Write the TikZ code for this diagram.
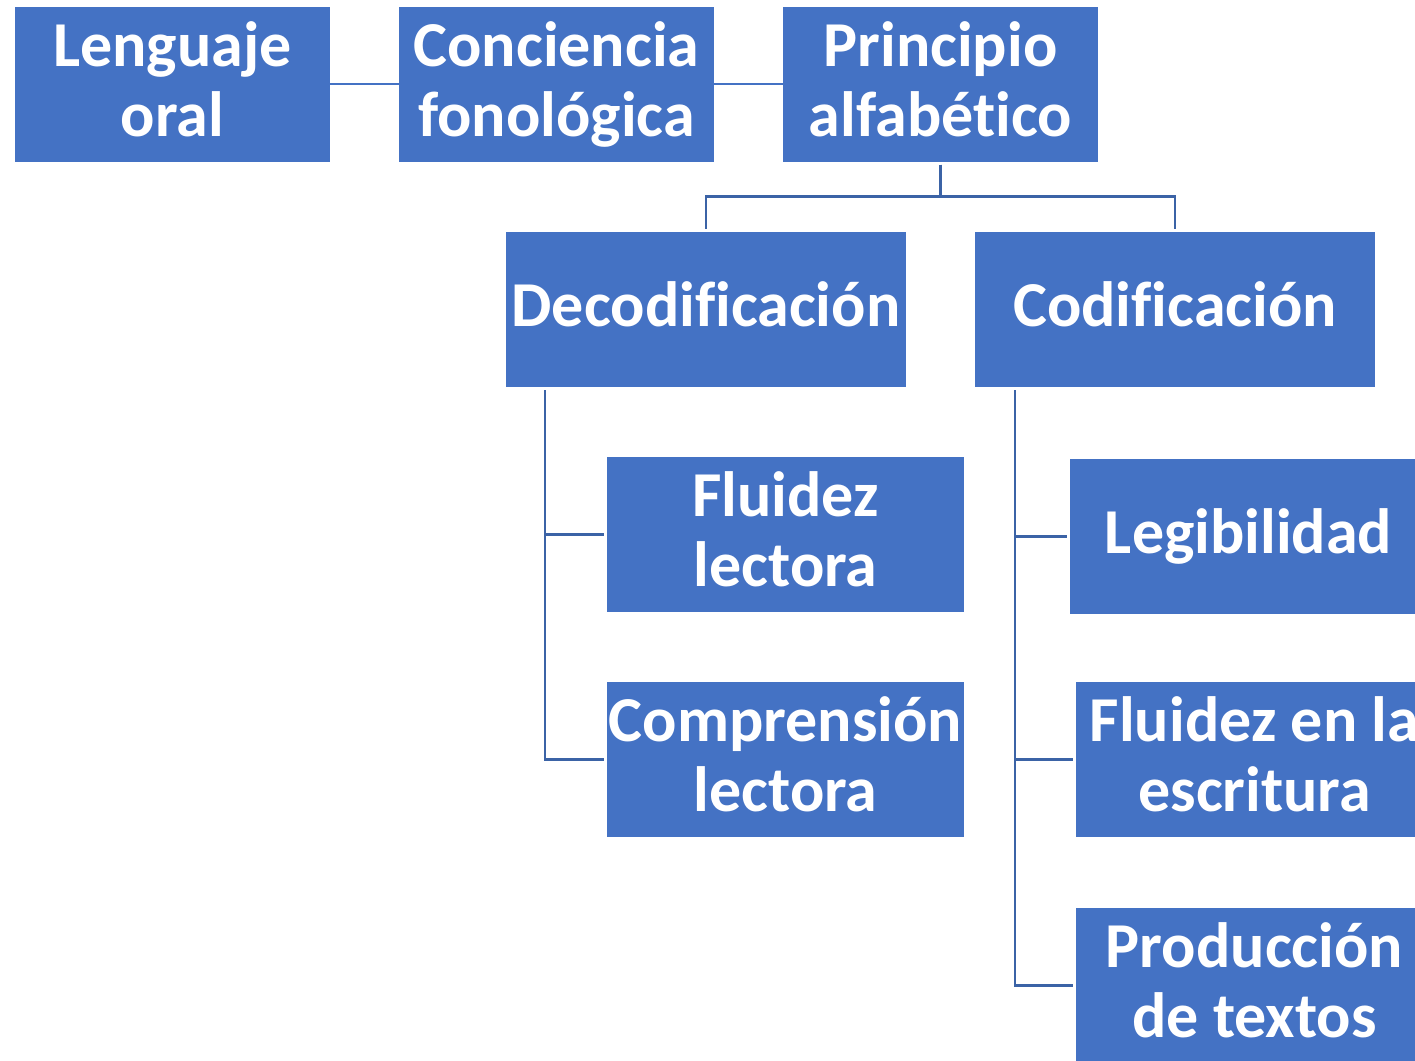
\documentclass[tikz,border=0pt]{standalone}
\usepackage{fontspec}
\setmainfont{Carlito}[Ligatures=NoCommon]
\usetikzlibrary{positioning}
\definecolor{boxblue}{HTML}{4472C4}
\definecolor{lineblue}{HTML}{3B63A6}
\newcommand{\boxstrut}{\rule[-18pt]{0pt}{70pt}}

\begin{document}
\begin{tikzpicture}[x=1pt,y=-1pt,
        box/.style={rectangle,fill=boxblue,text=white,inner sep=0pt,align=flush center,
            minimum height=155pt,font=\bfseries\fontsize{64}{70}\selectfont,
            execute at begin node=\noindent\boxstrut,execute at end node=\boxstrut},
        topbox/.style={box,minimum width=315pt,text width=315pt},
        midbox/.style={box,minimum width=400pt,text width=400pt},
        subbox/.style={box,minimum width=357pt,text width=357pt},
        link/.style={draw=boxblue,line width=1.5pt},
        tree/.style={draw=lineblue,line width=2.5pt,shorten <=3pt,shorten >=3pt}]

            \path[use as bounding box,clip] (0,0) rectangle (1415,1060);

            % Top row
            \node[topbox] (lenguaje) at (172.5,84) {Lenguaje\\oral};
            \node[topbox] (conciencia) at (556.5,84) {Conciencia\\fonológica};
            \node[topbox] (principio) at (940.5,84) {Principio\\alfabético};

            % Second level
            \node[midbox] (deco) at (706,309.5) {Decodificación};
            \node[midbox] (codi) at (1175,309.5) {Codificación};

            % Under decodificacion
            \node[subbox] (fluidezlec) at (785.5,534.5) {Fluidez\\lectora};
            \node[subbox] (comprension) at (785.5,759.5) {Comprensión\\lectora};

            % Under codificacion
            \node[subbox] (legibilidad) at (1248.5,536.5) {Legibilidad};
            \node[subbox] (fluidezesc) at (1254.5,759.5) {Fluidez en la\\escritura};
            \node[subbox] (produccion) at (1254.5,985.5) {Producción\\de textos};

            % Top row links
            \path[link] (lenguaje) -- (conciencia);
            \path[link] (conciencia) -- (principio);

            % Tree from principio
            \path[tree] (principio.south) -- ++(0,35) -| (deco.north);
            \path[tree] (principio.south) -- ++(0,35) -| (codi.north);

            % Brackets
            \path[tree] ([xshift=39pt]deco.south west) |- (fluidezlec.west);
            \path[tree] ([xshift=39pt]deco.south west) |- (comprension.west);
            \path[tree] ([xshift=40pt]codi.south west) |- (legibilidad.west);
            \path[tree] ([xshift=40pt]codi.south west) |- (fluidezesc.west);
            \path[tree] ([xshift=40pt]codi.south west) |- (produccion.west);

        \end{tikzpicture}
\end{document}
